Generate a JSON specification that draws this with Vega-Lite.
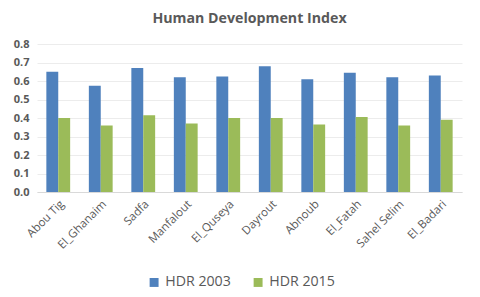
{
  "$schema": "https://vega.github.io/schema/vega-lite/v6.json",
  "width": 425,
  "height": 148,
  "padding": {"left": 13, "right": 11, "top": 11, "bottom": 8},
  "background": "white",
  "title": {"text": "Human Development Index", "fontSize": 14.2, "font": "Open Sans", "fontWeight": "bold", "color": "#595959", "offset": 12},
  "data": {"values": [
    {"district": "Abou Tig", "series": "HDR 2003", "value": 0.65},
    {"district": "Abou Tig", "series": "HDR 2015", "value": 0.40},
    {"district": "El_Ghanaim", "series": "HDR 2003", "value": 0.575},
    {"district": "El_Ghanaim", "series": "HDR 2015", "value": 0.36},
    {"district": "Sadfa", "series": "HDR 2003", "value": 0.67},
    {"district": "Sadfa", "series": "HDR 2015", "value": 0.415},
    {"district": "Manfalout", "series": "HDR 2003", "value": 0.62},
    {"district": "Manfalout", "series": "HDR 2015", "value": 0.37},
    {"district": "El_Quseya", "series": "HDR 2003", "value": 0.625},
    {"district": "El_Quseya", "series": "HDR 2015", "value": 0.40},
    {"district": "Dayrout", "series": "HDR 2003", "value": 0.68},
    {"district": "Dayrout", "series": "HDR 2015", "value": 0.40},
    {"district": "Abnoub", "series": "HDR 2003", "value": 0.61},
    {"district": "Abnoub", "series": "HDR 2015", "value": 0.365},
    {"district": "El_Fatah", "series": "HDR 2003", "value": 0.645},
    {"district": "El_Fatah", "series": "HDR 2015", "value": 0.405},
    {"district": "Sahel Selim", "series": "HDR 2003", "value": 0.62},
    {"district": "Sahel Selim", "series": "HDR 2015", "value": 0.36},
    {"district": "El_Badari", "series": "HDR 2003", "value": 0.63},
    {"district": "El_Badari", "series": "HDR 2015", "value": 0.39}
  ]},
  "mark": {"type": "bar"},
  "encoding": {
    "x": {"field": "district", "type": "nominal", "sort": null, "title": null,
      "scale": {"paddingInner": 0.44, "paddingOuter": 0.22},
      "axis": {"labelAngle": -45, "labelAlign": "right", "labelBaseline": "top", "labelFontSize": 11.5, "labelFont": "Open Sans", "labelColor": "#595959", "domain": true, "domainColor": "#d9d9d9", "ticks": false, "labelPadding": 6}},
    "xOffset": {"field": "series", "type": "nominal"},
    "y": {"field": "value", "type": "quantitative", "title": null,
      "scale": {"domain": [0, 0.8]},
      "axis": {"values": [0, 0.1, 0.2, 0.3, 0.4, 0.5, 0.6, 0.7, 0.8], "format": ".1f", "labelFontSize": 11, "labelFont": "Open Sans", "labelFontWeight": "bold", "labelColor": "#595959", "domain": false, "ticks": false, "gridColor": "#ececec", "labelPadding": 8}},
    "color": {"field": "series", "type": "nominal",
      "scale": {"domain": ["HDR 2003", "HDR 2015"], "range": ["#4F81BD", "#9BBB59"]},
      "legend": {"orient": "none", "legendX": 110, "legendY": 231, "direction": "horizontal", "title": null, "symbolType": "square", "symbolSize": 80, "symbolStrokeWidth": 0, "labelFontSize": 14.2, "labelFont": "Open Sans", "labelColor": "#595959", "columnPadding": 20}}
  },
  "config": {"view": {"stroke": null}}
}
